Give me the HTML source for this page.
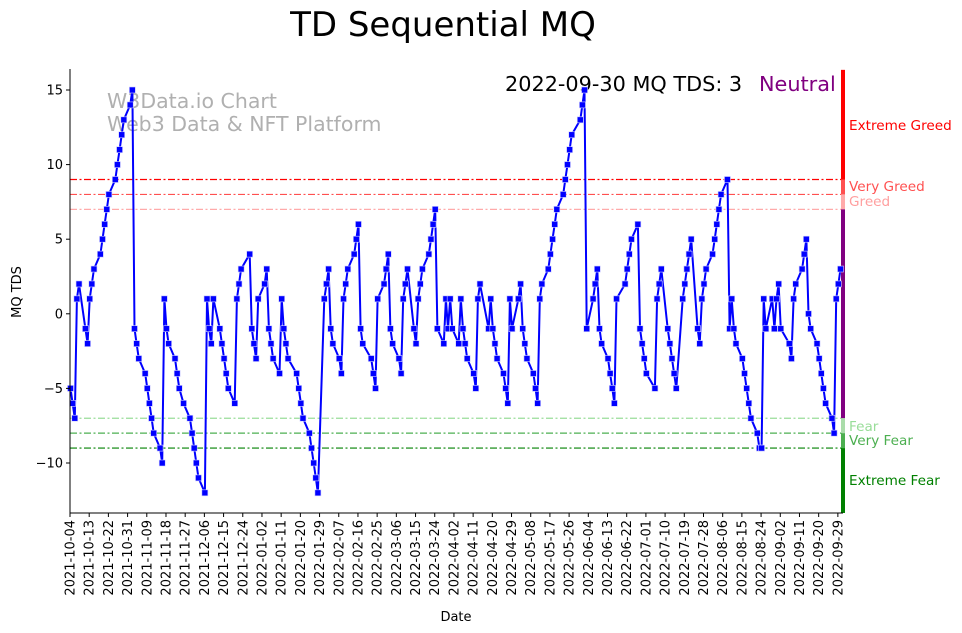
<!DOCTYPE html>
<html><head><meta charset="utf-8"><style>
html,body{margin:0;padding:0;background:#fff;}
svg{display:block;font-family:"DejaVu Sans","Liberation Sans",sans-serif;}
</style></head><body>
<svg id="chart" width="962" height="633" viewBox="0 0 962 633" xmlns="http://www.w3.org/2000/svg">
<text x="443" y="36" font-size="34" text-anchor="middle" fill="#000">TD Sequential MQ</text>
<text x="107" y="108" font-size="20.5" fill="#b0b0b0">W3Data.io Chart</text>
<text x="107" y="131" font-size="20.5" fill="#b0b0b0">Web3 Data &amp; NFT Platform</text>
<text x="505" y="91" font-size="20.8" fill="#000">2022-09-30 MQ TDS: 3</text>
<text x="759" y="91" font-size="20.8" fill="#800080">Neutral</text>
<g id="grid"></g><g id="bands"></g><g id="series"></g><g id="axes"></g>
<text x="456" y="621" font-size="13" text-anchor="middle">Date</text>
<text transform="translate(21,292) rotate(-90)" font-size="13" text-anchor="middle">MQ TDS</text>
</svg>
<script>
const weekValues = [
-5,-6,-7,1,2, -1,-2,1,2,3, 4,5,6,7,8, 9,10,11,12,13, 14,15,-1,-2,-3,
-4,-5,-6,-7,-8, -9,-10,1,-1,-2, -3,-4,-5,-6, -7,-8,-9,-10,-11,
-12,1,-1,-2,1, -1,-2,-3,-4,-5, -6,1,2,3, 4,-1,-2,-3,1,
2,3,-1,-2,-3, -4,1,-1,-2,-3, -4,-5,-6,-7, -8,-9,-10,-11,-12,
1,2,3,-1,-2, -3,-4,1,2,3, 4,5,6,-1,-2, -3,-4,-5,1, 2,3,4,-1,-2,
-3,-4,1,2,3, -1,-2,1,2,3, 4,5,6,7,-1, -2,1,-1,1,-1,
-2,1,-1,-2,-3, -4,-5,1,2, -1,1,-1,-2,-3, -4,-5,-6,1,-1, 1,2,-1,-2,-3,
-4,-5,-6,1,2, 3,4,5,6,7, 8,9,10,11,12, 13,14,15,-1,
1,2,3,-1,-2, -3,-4,-5,-6,1, 2,3,4,5, 6,-1,-2,-3,-4, -5,1,2,3,
-1,-2,-3,-4,-5, 1,2,3,4,5, -1,-2,1,2,3, 4,5,6,7,8,
9,-1,1,-1,-2, -3,-4,-5,-6,-7, -8,-9,-9,1,-1, 1,-1,1,2,-1,
-2,-3,1,2, 3,4,5,0,-1, -2,-3,-4,-5,-6, -7,-8,1,2,3
];
const holidays = ["2021-11-25","2021-12-24","2022-01-17","2022-02-21","2022-04-15","2022-05-30","2022-06-20","2022-07-04","2022-09-05"];
const startDate = "2021-10-04";
const endDate = "2022-09-30";
const yTicks = [15,10,5,0,-5,-10];
const levelValues = [9,8,7,-7,-8,-9];
const levelNames = ["Extreme Greed","Very Greed","Greed","Fear","Very Fear","Extreme Fear"];
const tickStepDays = 9;

const NS="http://www.w3.org/2000/svg";
const DAY=86400000;
const t0=Date.parse(startDate+"T00:00:00Z");
const nDays=Math.round((Date.parse(endDate+"T00:00:00Z")-t0)/DAY);
function xScale(d){return 70.5+d*(840.5-70.5)/nDays;}
function yScale(v){return 313.8-v*14.92;}
function mk(tag,attrs,parent){const e=document.createElementNS(NS,tag);for(const k in attrs)e.setAttribute(k,attrs[k]);parent.appendChild(e);return e;}
function fmt(t){return new Date(t).toISOString().slice(0,10);}

const days=[];
for(let d=0;d<=nDays;d++){const t=t0+d*DAY;const wd=new Date(t).getUTCDay();if(wd===0||wd===6)continue;if(holidays.includes(fmt(t)))continue;days.push(d);}

const grid=document.getElementById('grid');
const levelColors=["rgb(255,0,0)","rgb(255,80,80)","rgb(255,170,170)","rgb(153,221,153)","rgb(76,175,80)","rgb(0,128,0)"];
levelValues.forEach((v,i)=>{
  const l=mk('line',{x1:70,x2:842,y1:yScale(v),y2:yScale(v),stroke:levelColors[i],'stroke-width':1.2,'stroke-dasharray':'7,2.5,2,2.5'},grid);
  
  
});

const bands=document.getElementById('bands');
const segs=[[16.35,9,"#ff0000"],[9,8,"#ff5050"],[8,7,"#ffaaaa"],[7,-7,"#800080"],[-7,-8,"#aadcaa"],[-8,-9,"#4caf50"],[-9,-13.35,"#008000"]];
segs.forEach((s,i)=>{
  const r=mk('rect',{x:841,y:yScale(s[0]),width:4,height:yScale(s[1])-yScale(s[0]),fill:s[2]},bands);
  
  
});
const labelY=[125,186,201,426,440,480];
const labelCol=["#ff0000","#ff5050","#ff9f9f","#99dd99","#4caf50","#008000"];
levelNames.forEach((n,i)=>{
  const t=mk('text',{x:849,y:labelY[i]+5,'font-size':13.6,fill:labelCol[i]},bands);
  t.textContent=n;
  
  
});

const series=document.getElementById('series');
let pts=days.map((d,i)=>xScale(d).toFixed(1)+","+yScale(weekValues[i]).toFixed(1)).join(" ");
const pl=mk('polyline',{points:pts,fill:'none',stroke:'#0000ff','stroke-width':2,'stroke-linejoin':'round'},series);


days.forEach((d,i)=>{
  const r=mk('rect',{x:xScale(d)-3,y:yScale(weekValues[i])-3,width:6,height:6,fill:'#0000ff',stroke:'#d0d0ff','stroke-width':0.6},series);
  
  
});

const axes=document.getElementById('axes');
const ys=mk('line',{x1:70,x2:70,y1:69,y2:513.5,stroke:'#000','stroke-width':1},axes);


const xs=mk('line',{x1:69.5,x2:843,y1:513,y2:513,stroke:'#000','stroke-width':1},axes);


yTicks.forEach(v=>{
  const y=yScale(v);
  const tk=mk('line',{x1:66,x2:70,y1:y,y2:y,stroke:'#000'},axes);
  
  
  const t=mk('text',{x:63,y:y+4.5,'font-size':13,'text-anchor':'end'},axes);
  t.textContent=v<0?"\u2212"+(-v):String(v);
  
  
});
for(let d=0;d<=nDays;d+=tickStepDays){
  const x=xScale(d)-0.5;
  const tk=mk('line',{x1:x,x2:x,y1:513,y2:517,stroke:'#000'},axes);
  
  
  const t=mk('text',{transform:`translate(${x+4.5},520) rotate(-90)`,'font-size':13,'text-anchor':'end'},axes);
  t.textContent=fmt(t0+d*DAY);
  
  
}
</script>
</body></html>
